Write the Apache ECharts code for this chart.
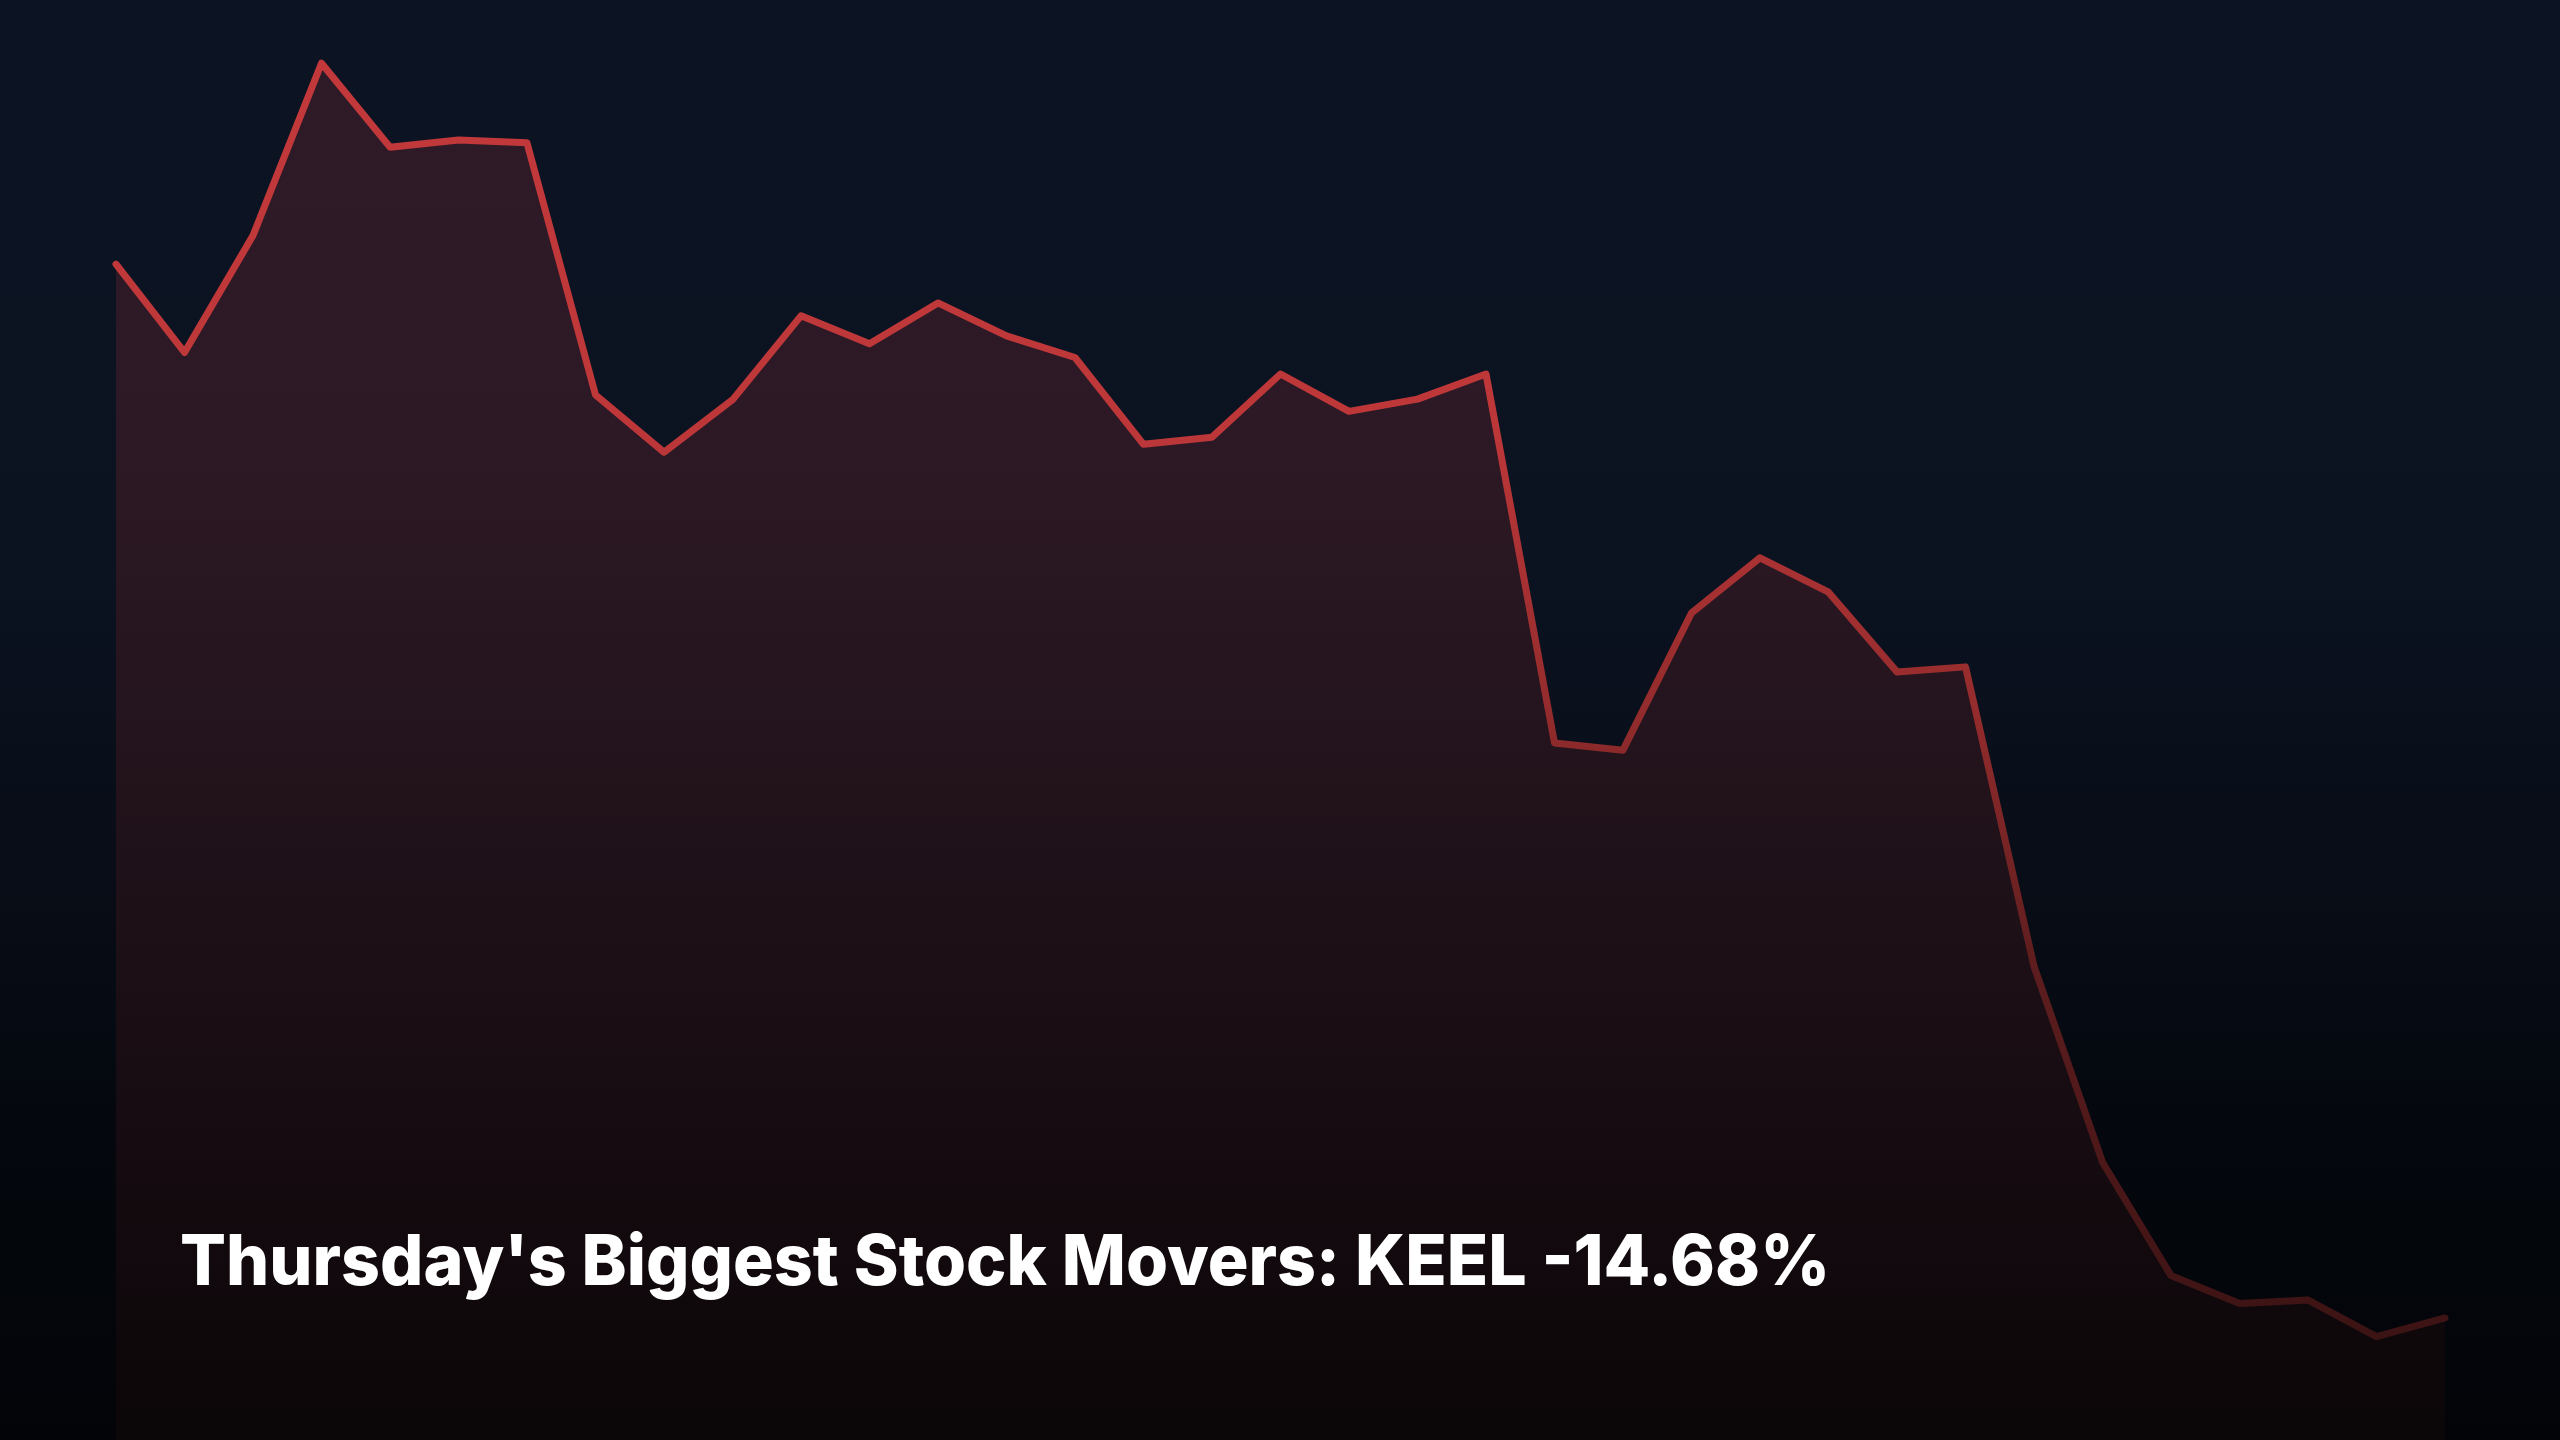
<!DOCTYPE html>
<html>
<head>
<meta charset="utf-8">
<script src="https://cdn.jsdelivr.net/npm/echarts@6/dist/echarts.min.js"></script>
<style>
  html, body { margin: 0; padding: 0; background: #05080f; }
  #chart { width: 2560px; height: 1440px; }
</style>
</head>
<body>
<div id="chart"></div>
<script>
    "use strict";

    // intraday sample index (no labels shown on the chart)
    var points = ['1', '2', '3', '4', '5', '6', '7', '8', '9', '10', '11', '12',
        '13', '14', '15', '16', '17', '18', '19', '20', '21', '22', '23', '24',
        '25', '26', '27', '28', '29', '30', '31', '32', '33', '34', '35'];

    // KEEL price
    var prices = [10.00, 9.877, 10.040, 10.280, 10.163, 10.173, 10.169, 9.818, 9.738, 9.811,
        9.928, 9.889, 9.946, 9.900, 9.870, 9.749, 9.759, 9.847, 9.795, 9.812,
        9.847, 9.333, 9.323, 9.514, 9.591, 9.543, 9.432, 9.439, 9.022, 8.749,
        8.591, 8.552, 8.557, 8.506, 8.532];

    var titleText = "Thursday's Biggest Stock Movers: KEEL -14.68%";

    var chart = echarts.init(document.getElementById('chart'), null, {renderer: 'canvas'});

    var option = {
        animation: false,
        backgroundColor: {
            type: 'linear', x: 0, y: 0, x2: 0, y2: 1,
            colorStops: [
                {offset: 0, color: '#0c1322'},
                {offset: 0.4, color: '#0b1220'},
                {offset: 0.6, color: '#080d17'},
                {offset: 0.8, color: '#04070d'},
                {offset: 1, color: '#020408'}
            ]
        },
        // headline, squeezed a little to match the tight tracking
        graphic: [{
            type: 'text',
            x: 180,
            y: 1229,
            scaleX: 0.972,
            z: 10,
            style: {
                text: titleText,
                x: 0,
                y: 0,
                fill: '#ffffff',
                font: '800 70px Inter',
                verticalAlign: 'top'
            }
        }],
        grid: {left: 116, right: 115, top: 0, bottom: 0},
        xAxis: {
            type: 'category',
            data: points,
            boundaryGap: false,
            show: false
        },
        yAxis: {
            type: 'value',
            min: 8.362,
            max: 10.368,
            show: false
        },
        series: [{
            type: 'line',
            data: prices,
            symbol: 'none',
            z: 1,
            lineStyle: {
                width: 7,
                cap: 'round',
                join: 'round',
                color: {
                    type: 'linear', x: 0, y: 0, x2: 0, y2: 1440, global: true,
                    colorStops: [
                        {offset: 0, color: '#c4393b'},
                        {offset: 0.3, color: '#bd3739'},
                        {offset: 0.5, color: '#922b2c'},
                        {offset: 0.67, color: '#5e1d1e'},
                        {offset: 0.93, color: '#3c1314'},
                        {offset: 1, color: '#361112'}
                    ]
                }
            },
            areaStyle: {
                opacity: 1,
                color: {
                    type: 'linear', x: 0, y: 0, x2: 0, y2: 1440, global: true,
                    colorStops: [
                        {offset: 0, color: '#2f1a27'},
                        {offset: 0.3, color: '#2d1925'},
                        {offset: 0.5, color: '#24141d'},
                        {offset: 0.65, color: '#1d1017'},
                        {offset: 0.8, color: '#150b10'},
                        {offset: 1, color: '#0b0608'}
                    ]
                }
            }
        }]
    };

    chart.setOption(option);
</script>
</body>
</html>
